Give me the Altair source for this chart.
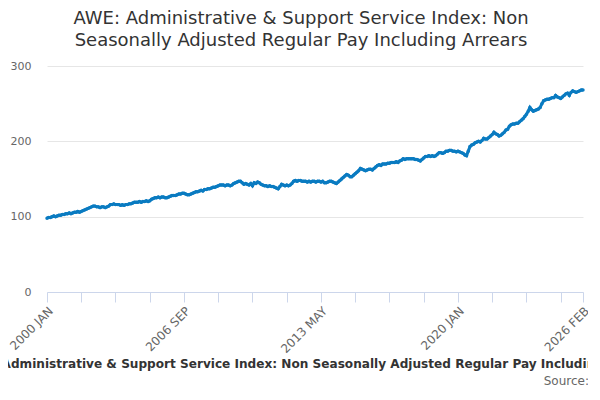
import altair as alt
import pandas as pd

# monthly index values, 2000 JAN .. 2026 FEB
v2000 = [98, 99, 99, 100, 101, 100, 101, 102, 102, 103, 103, 104]
v2001 = [104, 105, 104, 105, 106, 106, 107, 106, 107, 108, 109, 110]
v2002 = [111, 112, 113, 114, 114, 113, 113, 112, 113, 113, 112, 113]
v2003 = [114, 116, 116, 117, 116, 116, 116, 115, 116, 115, 116, 116]
v2004 = [117, 117, 118, 119, 119, 119, 120, 119, 120, 120, 121, 120]
v2005 = [121, 123, 124, 125, 125, 126, 125, 126, 126, 125, 125, 126]
v2006 = [127, 128, 128, 128, 129, 130, 130, 131, 131, 130, 129, 129]
v2007 = [130, 131, 132, 133, 133, 134, 135, 134, 136, 136, 137, 137]
v2008 = [138, 139, 139, 140, 141, 142, 142, 142, 141, 142, 142, 141]
v2009 = [142, 144, 145, 146, 147, 147, 145, 143, 144, 143, 142, 144]
v2010 = [141, 145, 144, 146, 145, 143, 142, 141, 141, 140, 141, 140]
v2011 = [140, 139, 138, 137, 140, 143, 142, 141, 142, 141, 142, 144]
v2012 = [147, 148, 147, 148, 148, 147, 147, 147, 146, 147, 146, 147]
v2013 = [147, 146, 147, 147, 146, 147, 145, 145, 146, 147, 147, 146]
v2014 = [145, 144, 146, 148, 150, 152, 154, 156, 155, 153, 153, 155]
v2015 = [157, 159, 161, 164, 163, 162, 161, 162, 163, 163, 162, 164]
v2016 = [166, 168, 169, 168, 170, 170, 170, 171, 171, 172, 172, 172]
v2017 = [173, 172, 174, 175, 177, 176, 177, 177, 177, 177, 177, 176]
v2018 = [176, 175, 174, 176, 178, 180, 180, 181, 180, 181, 180, 181]
v2019 = [183, 185, 185, 184, 185, 187, 187, 188, 188, 187, 187, 186]
v2020 = [187, 186, 185, 184, 182, 181, 187, 193, 195, 196, 198, 199]
v2021 = [200, 199, 201, 204, 203, 203, 205, 207, 209, 212, 210, 209]
v2022 = [207, 208, 210, 212, 215, 216, 220, 222, 223, 223, 224, 224]
v2023 = [226, 228, 230, 233, 236, 240, 245, 242, 240, 241, 242, 243]
v2024 = [245, 250, 254, 255, 256, 256, 257, 258, 258, 261, 259, 258]
v2025 = [257, 259, 261, 263, 264, 261, 265, 267, 266, 265, 266, 267]
v2026 = [268, 268]

values = (v2000 + v2001 + v2002 + v2003 + v2004 + v2005 + v2006 + v2007 + v2008
          + v2009 + v2010 + v2011 + v2012 + v2013 + v2014 + v2015 + v2016 + v2017
          + v2018 + v2019 + v2020 + v2021 + v2022 + v2023 + v2024 + v2025 + v2026)

months = ["JAN", "FEB", "MAR", "APR", "MAY", "JUN", "JUL", "AUG", "SEP", "OCT", "NOV", "DEC"]
labels = [f"{2000 + i // 12} {months[i % 12]}" for i in range(len(values))]

tick_every = 20
label_ticks = ["2000 JAN", "2006 SEP", "2013 MAY", "2020 JAN", "2026 FEB"]

df = pd.DataFrame({"idx": list(range(len(values))), "label": labels, "value": values})

last = len(values) - 1
tick_values = list(range(0, last, tick_every)) + [last]
label_idx = [labels.index(l) for l in label_ticks]
expr = " : ".join(f"datum.value == {i} ? '{labels[i]}'" for i in label_idx) + " : ''"

title_txt = "AWE: Administrative & Support Service Index: Non Seasonally Adjusted Regular Pay Including Arrears"
font = "DejaVu Sans"
blue = "#0a7bc1"

base = alt.Chart(df)

line = base.mark_line(color=blue, strokeWidth=3).encode(
    x=alt.X("idx:Q",
            scale=alt.Scale(domain=[0, last], nice=False, zero=False),
            axis=alt.Axis(values=tick_values, tickCount=40, labelExpr=expr, labelAngle=-45,
                          grid=False, domainColor="#ccd6eb", tickColor="#ccd6eb",
                          tickSize=10, labelColor="#666666", labelFontSize=12,
                          labelFont=font, labelPadding=3, labelOverlap=False,
                          labelBound=False, labelFlush=False,
                          title=title_txt, titleFont=font, titleFontSize=12.1,
                          titleFontWeight="bold", titleColor="#333333",
                          titleBaseline="alphabetic", titleAlign="center",
                          titleX=263, titleY=75)),
    y=alt.Y("value:Q",
            scale=alt.Scale(domain=[0, 300], nice=False),
            axis=alt.Axis(values=[0, 100, 200, 300], domain=False, ticks=False,
                          gridColor="#e6e6e6", labelColor="#666666",
                          labelFontSize=11, labelFont=font, labelPadding=16,
                          title=None)),
)

pts = base.mark_circle(color=blue, size=12, opacity=1).encode(x="idx:Q", y="value:Q")

source = alt.Chart(pd.DataFrame({"t": ["Source:"]})).mark_text(
    align="right", baseline="alphabetic", font=font, fontSize=12, color="#666666"
).encode(text="t:N", x=alt.value(542), y=alt.value(319))

chart = alt.layer(line, pts, source).properties(
    width=536,
    height=226,
    title=alt.TitleParams(
        ["AWE: Administrative & Support Service Index: Non",
         "Seasonally Adjusted Regular Pay Including Arrears"],
        font=font, fontSize=18, fontWeight="normal", color="#333333",
        anchor="middle", dx=-14, offset=10, lineHeight=22),
    autosize=alt.AutoSizeParams(type="none"),
    padding={"left": 39, "top": 58, "right": 5, "bottom": 98},
).configure_view(stroke=None)

chart.save("out.html", embed_options={"renderer": "svg", "actions": False})
